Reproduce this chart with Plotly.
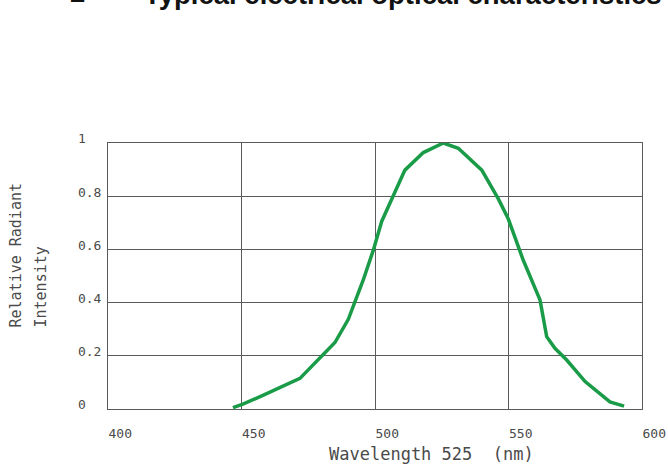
import plotly.graph_objects as go

# ---- data ----
wavelength_nm = [446.8, 450.5, 458.2, 471.9, 485.0, 490.0, 495.6, 499.4, 502.5,
                 511.2, 518.1, 525.6, 531.2, 540.0, 546.2, 549.9, 555.5, 561.8,
                 564.3, 567.4, 571.8, 578.7, 588.0, 593.3]
relative_intensity = [0.005, 0.018, 0.052, 0.115, 0.25, 0.337, 0.485, 0.598, 0.705,
                      0.898, 0.964, 1.0, 0.98, 0.898, 0.79, 0.715, 0.56, 0.41,
                      0.272, 0.228, 0.184, 0.103, 0.027, 0.011]

x_ticks = [400, 450, 500, 550, 600]
x_tick_labels = ["400", "450", "500", "550", "600"]
y_ticks = [0, 0.2, 0.4, 0.6, 0.8, 1]
y_tick_labels = ["0", "0.2", "0.4", "0.6", "0.8", "1"]

title_number = "2"
title_text = "Typical electrical optical characteristics"
x_title = "Wavelength 525  (nm)"
y_title_lines = ["Relative Radiant", "Intensity"]

MONO = "DejaVu Sans Mono"
TXT = "#4a4a4a"
GRID = "#5a5a5a"

# pad y labels with non-breaking spaces so they look left-aligned
ylab_w = max(len(s) for s in y_tick_labels)
y_tick_text = [s + "\u00a0" * (ylab_w - len(s)) for s in y_tick_labels]

fig = go.Figure()
fig.add_trace(go.Scatter(
    x=wavelength_nm, y=relative_intensity, mode="lines",
    line=dict(color="#1a9b48", width=3.5), hoverinfo="skip", showlegend=False))

fig.update_layout(
    width=668, height=468, autosize=False,
    margin=dict(l=108, r=26, t=143, b=59),
    paper_bgcolor="white", plot_bgcolor="white",
    font=dict(family=MONO, color=TXT, size=13),
    xaxis=dict(range=[400, 600], tickvals=x_ticks, ticktext=x_tick_labels,
               ticklabelposition="outside right", ticks="", ticklabelstandoff=12,
               showgrid=True, gridcolor=GRID, gridwidth=1, automargin=False,
               showline=True, linecolor=GRID, linewidth=1, mirror=True,
               zeroline=False, tickfont=dict(family=MONO, size=13, color=TXT)),
    yaxis=dict(range=[0, 1], tickvals=y_ticks, ticktext=y_tick_text,
               ticklabelposition="outside top", ticks="", ticklabelstandoff=3,
               ticklabelshift=5,
               showgrid=True, gridcolor=GRID, gridwidth=1, automargin=False,
               showline=True, linecolor=GRID, linewidth=1, mirror=True,
               zeroline=False, tickfont=dict(family=MONO, size=13, color=TXT)),
)

plot_h = 266.0
plot_w = 534.0
top_px = 143.0
left_px = 108.0


def py(px):
    return 1 + (top_px - px) / plot_h


def px_x(px):
    return (px - left_px) / plot_w


annos = []
# title (clipped at the top of the page)
annos.append(dict(text="<b>%s</b>" % title_number, x=px_x(68), y=py(-8),
                  xref="paper", yref="paper", xanchor="left", yanchor="middle",
                  showarrow=False, font=dict(family="Liberation Sans", size=27.5, color="#111")))
annos.append(dict(text="<b>%s</b>" % title_text, x=px_x(142), y=py(-5),
                  xref="paper", yref="paper", xanchor="left", yanchor="middle",
                  showarrow=False, font=dict(family="Liberation Sans", size=27.5, color="#111")))
# x axis title
annos.append(dict(text=x_title, x=px_x(431.5), y=py(454), xref="paper", yref="paper",
                  xanchor="center", yanchor="middle", showarrow=False,
                  font=dict(family=MONO, size=17, color=TXT)))
# y axis title (two lines, bottom aligned)
for cx, line in zip([15, 40], y_title_lines):
    annos.append(dict(text=line, x=px_x(cx), y=py(330), xref="paper", yref="paper",
                      xanchor="center", yanchor="bottom", textangle=-90, showarrow=False,
                      font=dict(family=MONO, size=15, color=TXT)))
fig.update_layout(annotations=annos)

fig.write_html("out.html", config={"responsive": False, "displayModeBar": False},
               post_script="document.body.style.margin='0';document.body.style.overflow='hidden';")
